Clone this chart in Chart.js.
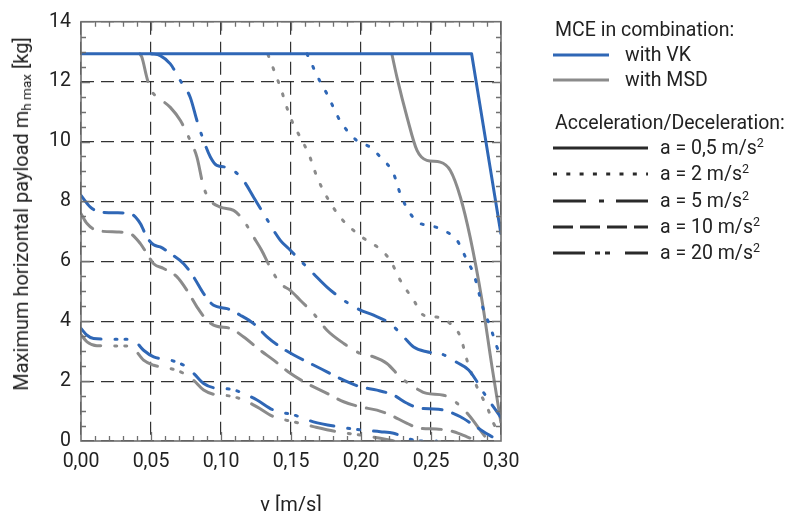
<!DOCTYPE html>
<html>
<head>
<meta charset="utf-8">
<script src="https://cdn.jsdelivr.net/npm/chart.js@4"></script>
<style>
  body { margin: 0; background: #fff; font-family: Roboto, sans-serif; color: #222; }
  #wrap { position: relative; width: 798px; height: 511px; overflow: hidden; }
  #chart { position: absolute; left: 0; top: 0; }
  .ytitle { position: absolute; left: 21px; top: 214px; transform: translate(-50%, -50%) rotate(-90deg); white-space: nowrap; font-size: 20px; }
  .xtitle { position: absolute; left: 291px; top: 504px; transform: translate(-50%, -50%); white-space: nowrap; font-size: 20px; }
  .ytitle sub { font-size: 13.5px; vertical-align: -3px; line-height: 0; }
  .lg { position: absolute; white-space: nowrap; font-size: 19.5px; line-height: 22px; transform: translateY(-50%); }
  .lg sup { font-size: 12.5px; vertical-align: 7px; line-height: 0; }
  .sample { position: absolute; transform: translateY(-50%); }
</style>
</head>
<body>
<div id="wrap">
  <canvas id="chart" width="798" height="511"></canvas>
  <div class="ytitle">Maximum horizontal payload m<sub>h max</sub> [kg]</div>
  <div class="xtitle">v [m/s]</div>
  <div id="legend"></div>
</div>
<script>
// ── Data (v in m/s, payload in kg) ──────────────────
const xTicks = [0, 0.05, 0.10, 0.15, 0.20, 0.25, 0.30];
const yTicks = [0, 2, 4, 6, 8, 10, 12, 14];

// MCE with VK (blue)
const vkA05 = [[0, 12.93], [0.279, 12.93], [0.30, 6.9]];
const vkA2 = [[0.1614, 12.93], [0.171, 11.98], [0.1757, 11.59], [0.185, 10.7], [0.197, 10.03], [0.2066, 9.81],
  [0.2138, 9.48], [0.2233, 8.92], [0.228, 8.26], [0.2352, 7.59], [0.2424, 7.26], [0.249, 7.2], [0.259, 7.03],
  [0.2686, 6.7], [0.2757, 6.03], [0.2804, 5.59], [0.2876, 4.37], [0.2924, 3.81], [0.2971, 3.14], [0.30, 2.85]];
const vkA5 = [[0.05, 12.93], [0.0566, 12.87], [0.0638, 12.59], [0.071, 12.03], [0.078, 11.48], [0.0828, 10.7],
  [0.0876, 10.03], [0.0924, 9.48], [0.097, 9.2], [0.1043, 9.14], [0.109, 9.03], [0.116, 8.7], [0.1233, 8.14],
  [0.1304, 7.59], [0.1424, 6.7], [0.1495, 6.37], [0.1566, 6.03], [0.166, 5.59], [0.1757, 5.14], [0.1876, 4.7],
  [0.1995, 4.37], [0.209, 4.2], [0.2209, 3.92], [0.2304, 3.48], [0.2376, 3.14], [0.247, 2.98], [0.2578, 2.9],
  [0.2686, 2.62], [0.2769, 2.37], [0.2888, 1.53], [0.30, 0.78]];
const vkA10 = [[0, 8.2], [0.0067, 7.81], [0.0138, 7.64], [0.0257, 7.62], [0.0352, 7.59], [0.0424, 7.26],
  [0.047, 6.81], [0.0519, 6.55], [0.0566, 6.48], [0.0638, 6.26], [0.0733, 5.92], [0.0804, 5.48], [0.0876, 4.92],
  [0.0947, 4.53], [0.1043, 4.42], [0.1138, 4.2], [0.1233, 3.92], [0.1329, 3.48], [0.1424, 3.14], [0.152, 2.87],
  [0.1638, 2.59], [0.1757, 2.31], [0.1876, 2.03], [0.1995, 1.81], [0.2114, 1.7], [0.2233, 1.53], [0.2329, 1.26],
  [0.2424, 1.09], [0.2519, 1.07], [0.259, 1.03], [0.271, 0.81], [0.2804, 0.53], [0.2876, 0.31], [0.2936, 0.14]];
const vkA20 = [[0, 3.76], [0.0043, 3.53], [0.009, 3.42], [0.0186, 3.4], [0.0329, 3.4], [0.0376, 3.37],
  [0.0447, 3.03], [0.0519, 2.81], [0.0638, 2.7], [0.0733, 2.53], [0.0804, 2.26], [0.0876, 1.92], [0.0947, 1.78],
  [0.1067, 1.73], [0.116, 1.59], [0.1257, 1.37], [0.1376, 1.03], [0.152, 0.87], [0.166, 0.64], [0.1829, 0.48],
  [0.1995, 0.37], [0.2138, 0.31], [0.2233, 0.26], [0.2329, 0.09], [0.2424, 0.0], [0.254, 0.0]];

// MCE with MSD (grey)
const msdA05 = [[0.222, 12.93], [0.2257, 12.14], [0.2329, 10.81], [0.24, 9.7], [0.247, 9.37], [0.2566, 9.31],
  [0.2638, 9.03], [0.271, 8.14], [0.278, 6.8], [0.2864, 4.7], [0.2935, 2.5], [0.30, 0.6]];
const msdA2 = [[0.1336, 12.9], [0.1357, 12.64], [0.1424, 11.81], [0.1495, 10.81], [0.1566, 10.14], [0.1626, 9.59],
  [0.1686, 8.81], [0.1757, 8.14], [0.185, 7.48], [0.1947, 7.03], [0.204, 6.7], [0.2125, 6.45], [0.2209, 6.03],
  [0.228, 5.37], [0.2376, 4.7], [0.2447, 4.2], [0.254, 4.14], [0.2638, 3.92], [0.271, 3.48], [0.2757, 2.7],
  [0.2828, 1.81], [0.29, 1.14], [0.2947, 0.59], [0.30, 0.2]];
const msdA5 = [[0.042, 12.93], [0.0435, 12.81], [0.047, 12.14], [0.0495, 11.76], [0.0566, 11.42], [0.0638, 11.14],
  [0.071, 10.7], [0.078, 10.03], [0.0828, 9.48], [0.0876, 8.48], [0.0924, 8.03], [0.0995, 7.81], [0.109, 7.7],
  [0.116, 7.37], [0.1233, 6.81], [0.129, 6.37], [0.135, 5.81], [0.1424, 5.26], [0.1495, 5.03], [0.1566, 4.7],
  [0.166, 4.26], [0.1757, 3.7], [0.1876, 3.26], [0.1995, 2.92], [0.209, 2.81], [0.2185, 2.59], [0.228, 2.14],
  [0.2376, 1.81], [0.247, 1.59], [0.259, 1.53], [0.2686, 1.26], [0.278, 0.81], [0.285, 0.37], [0.291, 0.0]];
const msdA10 = [[0, 7.59], [0.0043, 7.26], [0.0114, 7.03], [0.0257, 6.98], [0.0352, 6.92], [0.0424, 6.59],
  [0.047, 6.26], [0.0519, 5.92], [0.059, 5.76], [0.0686, 5.48], [0.0757, 5.03], [0.0828, 4.48], [0.09, 4.03],
  [0.097, 3.83], [0.1067, 3.76], [0.116, 3.48], [0.128, 3.03], [0.1376, 2.7], [0.1495, 2.26], [0.1614, 1.92],
  [0.1757, 1.59], [0.1876, 1.31], [0.1995, 1.14], [0.2114, 1.03], [0.2209, 0.87], [0.2329, 0.59], [0.2424, 0.42],
  [0.254, 0.4], [0.2662, 0.31], [0.2757, 0.14], [0.2828, 0.0]];
const msdA20 = [[0, 3.55], [0.0043, 3.31], [0.0114, 3.18], [0.0329, 3.17], [0.0376, 3.09], [0.0447, 2.7],
  [0.0519, 2.53], [0.0638, 2.42], [0.0733, 2.26], [0.0804, 2.03], [0.0876, 1.7], [0.0947, 1.56], [0.1067, 1.5],
  [0.116, 1.37], [0.1257, 1.14], [0.1376, 0.81], [0.152, 0.64], [0.166, 0.48], [0.1829, 0.31], [0.1995, 0.2],
  [0.2138, 0.09], [0.2233, 0.0]];

// ── Styles ──────────────────────────────────────────
const BLUE = '#2f67b6';
const GREY = '#8b8b8b';
// round caps add ~1.5px to each end of a dash
const DASH = {
  a05: [],
  a2: [2, 12],
  a5: [29, 13, 2, 13],
  a10: [19, 11],
  a20: [24, 14, 2, 8, 2, 14],
};

const toPts = arr => arr.map(p => ({ x: p[0], y: p[1] }));

function series(label, pts, color, dash, straight) {
  return {
    label,
    data: toPts(pts),
    borderColor: color,
    borderWidth: 3,
    borderDash: dash,
    borderCapStyle: dash.length ? 'round' : 'butt',
    borderJoinStyle: 'round',
    pointRadius: 0,
    fill: false,
    tension: straight ? 0 : 0.4,
    cubicInterpolationMode: straight ? 'default' : 'monotone',
  };
}

// dataset 0 is drawn on top, so blue goes first
const datasets = [
  series('VK a=0.5', vkA05, BLUE, DASH.a05, true),
  series('VK a=2', vkA2, BLUE, DASH.a2),
  series('VK a=5', vkA5, BLUE, DASH.a5),
  series('VK a=10', vkA10, BLUE, DASH.a10),
  series('VK a=20', vkA20, BLUE, DASH.a20),
  series('MSD a=0.5', msdA05, GREY, DASH.a05),
  series('MSD a=2', msdA2, GREY, DASH.a2),
  series('MSD a=5', msdA5, GREY, DASH.a5),
  series('MSD a=10', msdA10, GREY, DASH.a10),
  series('MSD a=20', msdA20, GREY, DASH.a20),
];

// ── Frame + inward minor ticks ──────────────────────
const framePlugin = {
  id: 'frame',
  afterDraw(chart) {
    const { ctx, chartArea: a, scales: { x, y } } = chart;
    ctx.save();
    ctx.strokeStyle = '#707070';
    ctx.lineWidth = 1.3;
    ctx.beginPath();
    for (let i = 1; i < 30; i++) {
      const px = Math.round(x.getPixelForValue(i / 100)) + 0.5;
      const len = i % 5 === 0 ? 9 : 5;
      ctx.moveTo(px, a.bottom); ctx.lineTo(px, a.bottom - len);
      ctx.moveTo(px, a.top); ctx.lineTo(px, a.top + len);
    }
    for (let i = 1; i < 28; i++) {
      const py = Math.round(y.getPixelForValue(i / 2)) + 0.5;
      const len = i % 4 === 0 ? 9 : 5;
      ctx.moveTo(a.left, py); ctx.lineTo(a.left + len, py);
      ctx.moveTo(a.right, py); ctx.lineTo(a.right - len, py);
    }
    ctx.stroke();
    ctx.lineWidth = 1.6;
    ctx.strokeRect(a.left, a.top, a.right - a.left, a.bottom - a.top);
    ctx.restore();
  },
};

const gridOpts = { color: 'rgba(0,0,0,0.8)', lineWidth: 1.2, drawTicks: false };

new Chart(document.getElementById('chart').getContext('2d'), {
  type: 'line',
  data: { datasets },
  options: {
    responsive: false,
    animation: false,
    layout: { padding: { left: 0, top: 21, right: 297, bottom: 0 } },
    plugins: { legend: { display: false }, tooltip: { enabled: false } },
    scales: {
      x: {
        type: 'linear',
        min: 0,
        max: 0.30,
        afterBuildTicks: s => { s.ticks = xTicks.map(v => ({ value: v })); },
        afterFit: s => { s.height = 70; },
        grid: gridOpts,
        border: { display: false, dash: [13, 7] },
        ticks: {
          padding: 9,
          color: '#222',
          font: { family: 'Roboto', size: 19.5 },
          maxRotation: 0,
          callback: v => v.toFixed(2).replace('.', ','),
        },
      },
      y: {
        min: 0,
        max: 14,
        afterBuildTicks: s => { s.ticks = yTicks.map(v => ({ value: v })); },
        afterFit: s => { s.width = 81; },
        grid: gridOpts,
        border: { display: false, dash: [13, 7] },
        ticks: {
          padding: 10,
          color: '#222',
          font: { family: 'Roboto', size: 19.5 },
        },
      },
    },
  },
  plugins: [framePlugin],
});

// ── Legend ──────────────────────────────────────────
const mceItems = [
  { label: 'with VK', color: BLUE, y: 55 },
  { label: 'with MSD', color: GREY, y: 80 },
];
const accelItems = [
  { label: 'a = 0,5 m/s<sup>2</sup>', dash: '', y: 148 },
  { label: 'a = 2 m/s<sup>2</sup>', dash: '4 9.3', y: 174 },
  { label: 'a = 5 m/s<sup>2</sup>', dash: '33 13 5 12', y: 201 },
  { label: 'a = 10 m/s<sup>2</sup>', dash: '20 7', y: 227 },
  { label: 'a = 20 m/s<sup>2</sup>', dash: '32 10 5 5 5 15', y: 253 },
];

function sampleSVG(x, y, w, color, dash) {
  return `<svg class="sample" style="left:${x}px;top:${y}px" width="${w}" height="6">
    <line x1="0" y1="3" x2="${w}" y2="3" stroke="${color}" stroke-width="3" stroke-dasharray="${dash}"/></svg>`;
}

let html = '<div class="lg" style="left:555px;top:30px">MCE in combination:</div>';
mceItems.forEach(it => {
  html += sampleSVG(553, it.y, 56, it.color, '');
  html += `<div class="lg" style="left:625px;top:${it.y}px">${it.label}</div>`;
});
html += '<div class="lg" style="left:555px;top:123px">Acceleration/Deceleration:</div>';
accelItems.forEach(it => {
  html += sampleSVG(553, it.y, 95, '#2a2a2a', it.dash);
  html += `<div class="lg" style="left:660px;top:${it.y}px">${it.label}</div>`;
});
document.getElementById('legend').innerHTML = html;
</script>
</body>
</html>
